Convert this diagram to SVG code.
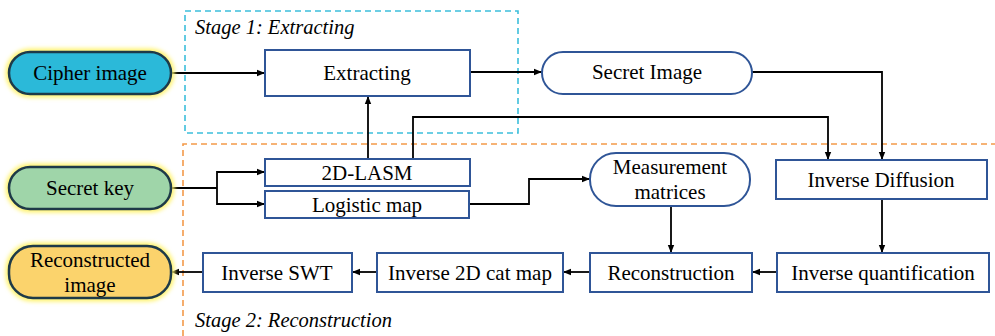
<svg xmlns="http://www.w3.org/2000/svg" width="995" height="336" viewBox="0 0 995 336" font-family="'Liberation Serif', 'Times New Roman', serif">
<defs>
<marker id="ah" markerWidth="8" markerHeight="8" refX="8" refY="4" orient="auto" markerUnits="userSpaceOnUse">
<path d="M0,0.8 L8,4 L0,7.2 Z" fill="#000"/>
</marker>
<filter id="glow" x="-20%" y="-40%" width="140%" height="180%">
<feGaussianBlur stdDeviation="2"/>
</filter>
</defs>
<style>
text{font-family:"Liberation Serif","Times New Roman",serif;font-size:21px;fill:#000;text-anchor:middle}
.lbl{font-style:italic;text-anchor:start;font-size:20.5px}
.box{fill:#fff;stroke:#2f5597;stroke-width:2}
.term{stroke:#1e3a48;stroke-width:2.5}
.halo{fill:none;stroke:#fff36a;stroke-width:7;filter:url(#glow)}
.c{fill:none;stroke:#000;stroke-width:1.8}
.a{marker-end:url(#ah)}
.stage{fill:none;stroke-width:1.6;stroke-dasharray:6,4}
</style>
<rect width="995" height="336" fill="#fff"/>
<g id="stage1">
<rect class="stage" x="185" y="11" width="333" height="122" stroke="#3cbfdb"/>
<text class="lbl" x="195" y="34">Stage 1: Extracting</text>
</g>
<g id="stage2">
<path class="stage" d="M183,336 V144 H995" stroke="#f39a4a"/>
<text class="lbl" x="195" y="327">Stage 2: Reconstruction</text>
</g>
<g id="connectors">
<path class="c a" d="M171,73 H265"/>
<path class="c a" d="M470,72 H542"/>
<path class="c a" d="M752,72 H882 V160"/>
<path class="c a" d="M413,159 V117 H828 V160"/>
<path class="c a" d="M368,159 V96"/>
<path class="c" d="M171,188 H217"/>
<path class="c a" d="M217,188 V172 H265"/>
<path class="c a" d="M217,188 V204 H265"/>
<path class="c a" d="M469,204 H529 V179 H590"/>
<path class="c a" d="M671,206 V253"/>
<path class="c a" d="M882,199 V253"/>
<path class="c a" d="M777,272 H752"/>
<path class="c a" d="M590,272 H563"/>
<path class="c a" d="M377,272 H352"/>
<path class="c a" d="M203,272 H171"/>
</g>
<g id="cipher">
<rect class="halo" x="9" y="52" width="162" height="42" rx="21"/>
<rect class="term" x="9" y="52" width="162" height="42" rx="21" fill="#2bb9d9"/>
<text x="90" y="80">Cipher image</text>
</g>
<g id="secretkey">
<rect class="halo" x="9" y="167" width="162" height="42" rx="21"/>
<rect class="term" x="9" y="167" width="162" height="42" rx="21" fill="#9fd5a9"/>
<text x="90" y="195">Secret key</text>
</g>
<g id="reconimg">
<rect class="halo" x="9" y="246" width="162" height="52" rx="24"/>
<rect class="term" x="9" y="246" width="162" height="52" rx="24" fill="#fbd36c"/>
<text x="90" y="267">Reconstructed</text>
<text x="90" y="292">image</text>
</g>
<g id="extracting">
<rect class="box" x="265" y="50" width="205" height="46"/>
<text x="367" y="80">Extracting</text>
</g>
<g id="secretimage">
<rect class="box" x="542" y="52" width="210" height="42" rx="21"/>
<text x="647" y="79">Secret Image</text>
</g>
<g id="lasm">
<rect class="box" x="265" y="159" width="205" height="27"/>
<text x="367" y="180">2D-LASM</text>
</g>
<g id="logistic">
<rect class="box" x="265" y="191" width="204" height="27"/>
<text x="367" y="212">Logistic map</text>
</g>
<g id="measurement">
<rect class="box" x="590" y="153" width="160" height="53" rx="26"/>
<text x="670" y="174">Measurement</text>
<text x="670" y="199">matrices</text>
</g>
<g id="invdiff">
<rect class="box" x="776" y="160" width="211" height="39"/>
<text x="881" y="187">Inverse Diffusion</text>
</g>
<g id="invquant">
<rect class="box" x="777" y="253" width="212" height="39"/>
<text x="883" y="280">Inverse quantification</text>
</g>
<g id="recon">
<rect class="box" x="590" y="253" width="162" height="39"/>
<text x="671" y="280">Reconstruction</text>
</g>
<g id="invcat">
<rect class="box" x="377" y="253" width="186" height="39"/>
<text x="470" y="280">Inverse 2D cat map</text>
</g>
<g id="invswt">
<rect class="box" x="203" y="253" width="149" height="39"/>
<text x="277" y="280">Inverse SWT</text>
</g>
</svg>
